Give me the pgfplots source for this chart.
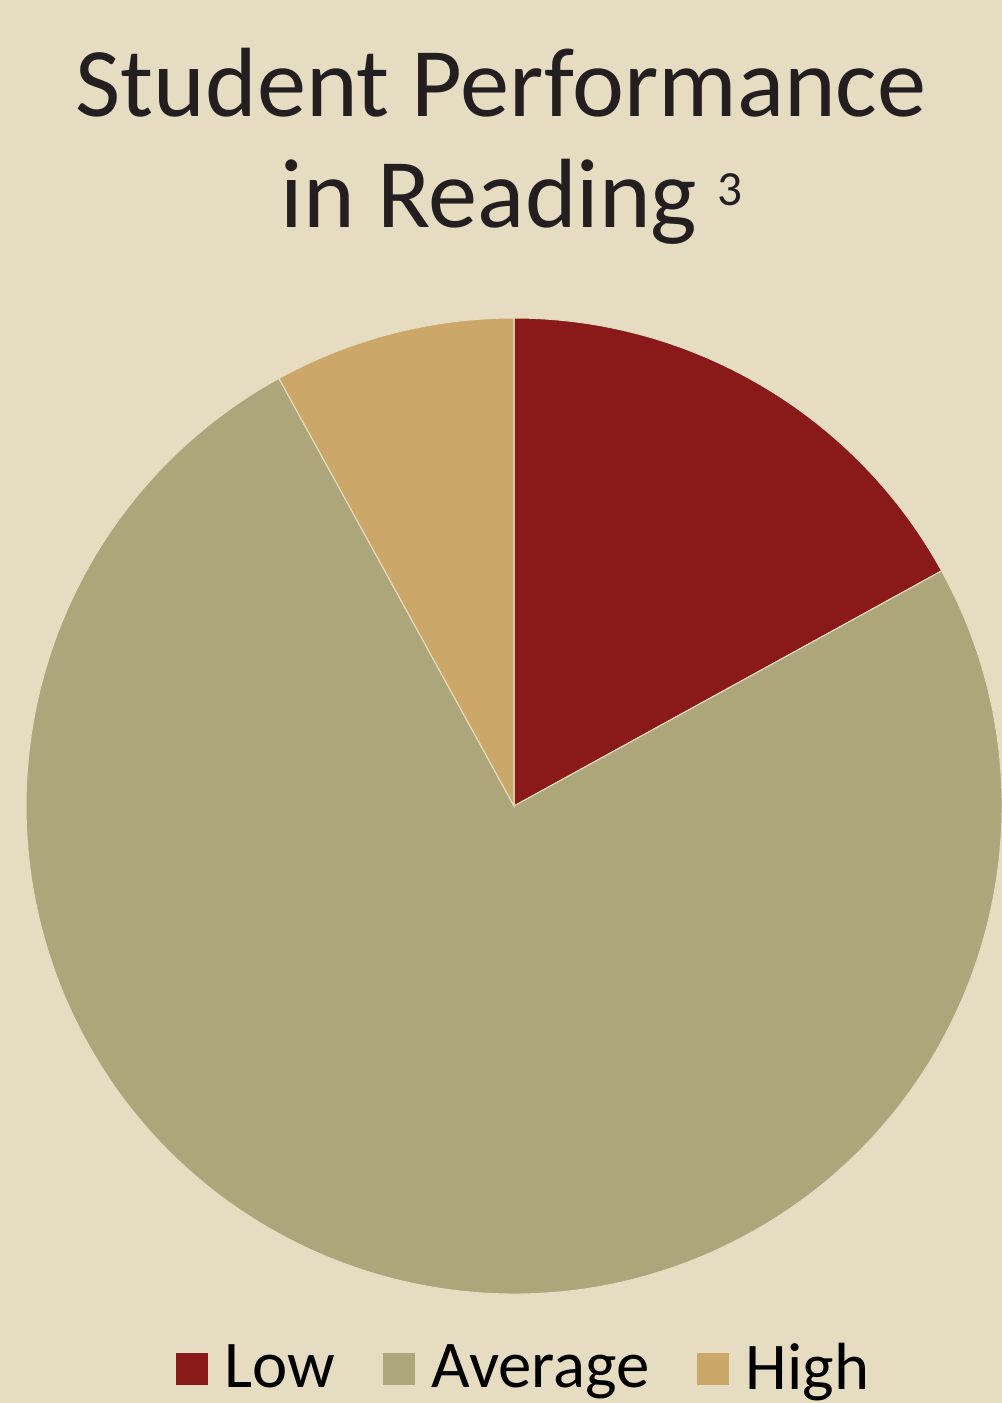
\documentclass[border=0pt]{standalone}
\usepackage{pgfplots}
\pgfplotsset{compat=1.18}
\usepackage{pgfplotstable}
\usepackage{fontspec}
\setmainfont{Carlito}

\definecolor{bgc}{HTML}{E5DCC1}
\definecolor{lowc}{HTML}{8A191A}
\definecolor{avgc}{HTML}{ADA67B}
\definecolor{highc}{HTML}{CBA869}
\definecolor{titlec}{HTML}{231F20}

% share of students, percent
\pgfplotstableread{
label   value
Low     17
Average 75
High    8
}\readingdata

\begin{document}
\begin{tikzpicture}
  % pull the numbers out of the table (angles go clockwise from 12 o'clock)
  \pgfplotstablegetelem{0}{value}\of\readingdata \let\vlow\pgfplotsretval
  \pgfplotstablegetelem{1}{value}\of\readingdata \let\vavg\pgfplotsretval
  \pgfplotstablegetelem{2}{value}\of\readingdata \let\vhigh\pgfplotsretval
  \pgfmathsetmacro\aA{90-3.6*\vlow}
  \pgfmathsetmacro\aB{\aA-3.6*\vavg}
  \pgfmathsetmacro\aC{\aB-3.6*\vhigh}
  \begin{axis}[
      x=1cm, y=1cm,
      xmin=0, xmax=10.02,
      ymin=0, ymax=14.03,
      hide axis,
      clip=false,
      legend columns=3,
      legend style={
        at={(axis cs:5.26,0.34)}, anchor=center,
        draw=none, fill=none,
        font=\fontsize{19}{20}\selectfont,
        /tikz/every even column/.append style={column sep=0.4cm},
        /tikz/every odd column/.append style={column sep=0.1cm},
      },
      legend image code/.code={
        \fill[#1, draw=none] (0cm,-0.16cm) rectangle (0.32cm,0.16cm);
      },
    ]
    % background
    \fill[bgc] (axis cs:0,0) rectangle (axis cs:10.02,14.03);

    % slices
    \edef\slices{%
      \noexpand\filldraw[lowc, draw=bgc, line width=0.3pt] (axis cs:5.14,5.97) -- ++(90:4.88)
        arc[start angle=90, end angle=\aA, radius=4.88] -- cycle;
      \noexpand\filldraw[avgc, draw=bgc, line width=0.3pt] (axis cs:5.14,5.97) -- ++(\aA:4.88)
        arc[start angle=\aA, end angle=\aB, radius=4.88] -- cycle;
      \noexpand\filldraw[highc, draw=bgc, line width=0.3pt] (axis cs:5.14,5.97) -- ++(\aB:4.88)
        arc[start angle=\aB, end angle=\aC, radius=4.88] -- cycle;
    }
    \slices

    \addlegendimage{fill=lowc}
    \addlegendentry{Low}
    \addlegendimage{fill=avgc}
    \addlegendentry{Average}
    \addlegendimage{fill=highc}
    \addlegendentry{High}

    % title
    \node[anchor=base, text=titlec, font=\fontsize{28}{30}\selectfont]
      at (axis cs:5.01,12.86) {Student Performance};
    \node[anchor=base, text=titlec, font=\fontsize{28}{30}\selectfont]
      at (axis cs:5.115,11.75) {in Reading\hspace{0.2cm}\raisebox{6.5pt}{\fontsize{14}{14}\selectfont 3}};
  \end{axis}
  \pgfresetboundingbox
  \useasboundingbox (0,0) rectangle (10.02,14.03);
\end{tikzpicture}
\end{document}
